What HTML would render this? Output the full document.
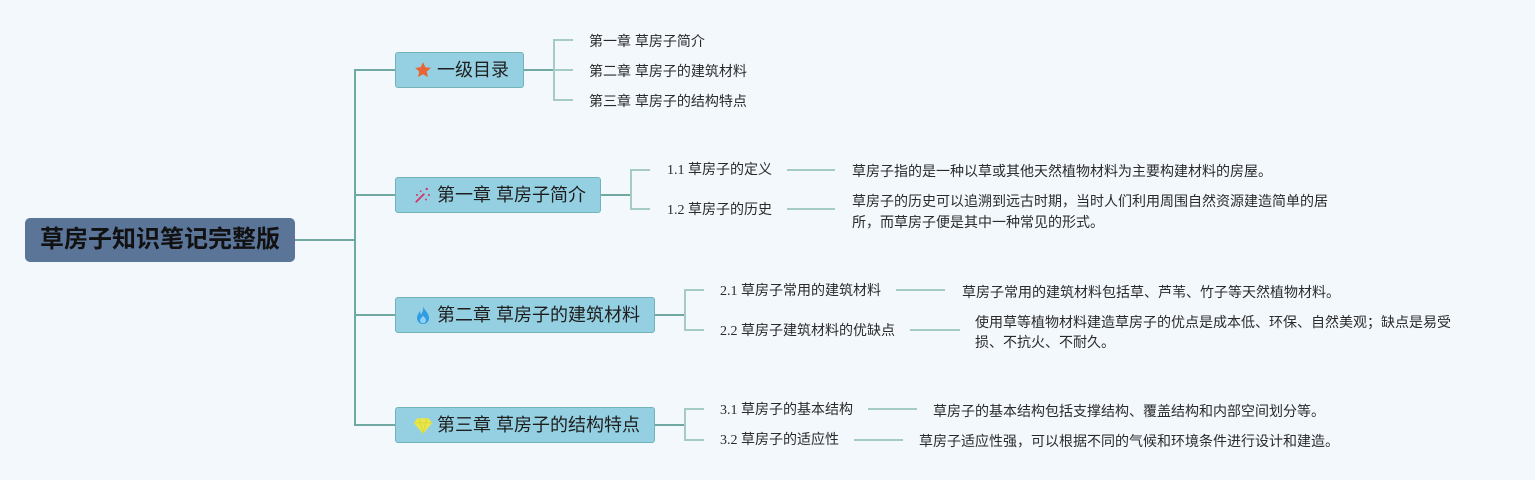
<!DOCTYPE html>
<html><head><meta charset="utf-8">
<style>
html,body{margin:0;padding:0;}
body{width:1535px;height:480px;background:#f3f8fd;position:relative;overflow:hidden;font-family:"Liberation Sans","Noto Sans CJK SC",sans-serif;}
.root{position:absolute;left:25px;top:218px;width:270px;height:44px;background:#5b7599;border-radius:5px;color:#111;font-weight:bold;font-size:24px;line-height:44px;text-align:center;letter-spacing:0px;}
.l1{position:absolute;left:395px;height:34px;background:#94d0e1;border:1px solid #72b3b8;border-radius:3px;box-sizing:border-box;}
.l1 .t{position:absolute;left:41px;top:0;line-height:33px;font-size:18px;color:#1e1e1e;white-space:nowrap;}
.l1 svg{position:absolute;left:18px;top:8px;}
.lf{position:absolute;font-size:14px;line-height:20px;color:#2a2a2a;white-space:nowrap;font-family:"Liberation Serif","Noto Sans CJK SC",sans-serif;}
.ds{position:absolute;font-size:14px;line-height:20px;color:#2a2a2a;white-space:nowrap;font-family:"Liberation Sans","Noto Sans CJK SC",sans-serif;}
</style></head><body>
<svg width="1535" height="480" style="position:absolute;left:0;top:0">
<g stroke="#6fa9a1" stroke-width="2" fill="none">
<line x1="295" y1="240" x2="355" y2="240"/>
<line x1="355" y1="69" x2="355" y2="426"/>
<line x1="355" y1="70" x2="395" y2="70"/>
<line x1="355" y1="195" x2="395" y2="195"/>
<line x1="355" y1="315" x2="395" y2="315"/>
<line x1="355" y1="425" x2="395" y2="425"/>
<line x1="524" y1="70" x2="554" y2="70"/>
<line x1="601" y1="195" x2="631" y2="195"/>
<line x1="655" y1="315" x2="685" y2="315"/>
<line x1="655" y1="425" x2="685" y2="425"/>
</g>
<g stroke="#a6cac5" stroke-width="2" fill="none">
<path d="M573 40 H554 V100 H573"/>
<line x1="554" y1="70" x2="573" y2="70"/>
<path d="M650 170 H631 V209 H650"/>
<path d="M704 290 H685 V330 H704"/>
<path d="M704 409 H685 V440 H704"/>
<line x1="787" y1="170" x2="835" y2="170"/>
<line x1="787" y1="209" x2="835" y2="209"/>
<line x1="896" y1="290" x2="945" y2="290"/>
<line x1="910" y1="330" x2="960" y2="330"/>
<line x1="868" y1="409" x2="917" y2="409"/>
<line x1="854" y1="440" x2="903" y2="440"/>
</g>
</svg>

<div class="root">草房子知识笔记完整版</div>

<div class="l1" style="top:52px;width:129px;height:36px;">
<svg width="18" height="18" viewBox="0 0 24 24" style="top:8px"><path d="M12 1.5l3.1 6.9 7.4.7-5.6 5 1.7 7.4L12 17.7l-6.6 3.8 1.7-7.4-5.6-5 7.4-.7z" fill="#ea6434"/></svg>
<div class="t" style="line-height:35px">一级目录</div></div>

<div class="l1" style="top:177px;width:206px;height:36px;">
<svg width="18" height="18" viewBox="0 0 24 24" style="top:8px"><line x1="3" y1="21" x2="13" y2="11" stroke="#d6336c" stroke-width="2.5" stroke-linecap="round"/><circle cx="17" cy="4" r="1.6" fill="#d6336c"/><circle cx="20" cy="12" r="1.4" fill="#d6336c"/><circle cx="4" cy="12" r="1.4" fill="#d6336c"/><circle cx="9" cy="7" r="1.2" fill="#d6336c"/><circle cx="16" cy="18" r="1.3" fill="#d6336c"/></svg>
<div class="t" style="line-height:35px">第一章 草房子简介</div></div>

<div class="l1" style="top:297px;width:260px;height:36px;">
<svg width="18" height="20" viewBox="0 0 24 26" style="top:7px"><path d="M12 1c1 5 8 9 8 16a8 8 0 0 1-16 0c0-4 3-6 3-9 2 2 2 4 2 5 2-3 4-7 3-12z" fill="#2f9be2"/><path d="M12 14c2 2 4 4 4 6a4 4 0 0 1-8 0c0-2 2-3 4-6z" fill="#8fd0f2"/></svg>
<div class="t" style="line-height:35px">第二章 草房子的建筑材料</div></div>

<div class="l1" style="top:407px;width:260px;height:36px;">
<svg width="20" height="18" viewBox="0 0 26 22" style="left:17px;top:9px"><path d="M6 1h14l5 6-12 14L1 7z" fill="#e9e84a"/><path d="M1 7h24M8 1l5 20M18 1l-5 20" stroke="#d4d23a" stroke-width="1" fill="none"/></svg>
<div class="t" style="line-height:35px">第三章 草房子的结构特点</div></div>

<div class="ds" style="left:589px;top:31px">第一章 草房子简介</div>
<div class="ds" style="left:589px;top:61px">第二章 草房子的建筑材料</div>
<div class="ds" style="left:589px;top:91px">第三章 草房子的结构特点</div>

<div class="lf" style="left:667px;top:161px">1.1 草房子的定义</div>
<div class="lf" style="left:667px;top:201px">1.2 草房子的历史</div>
<div class="ds" style="left:852px;top:161px">草房子指的是一种以草或其他天然植物材料为主要构建材料的房屋。</div>
<div class="ds" style="left:852px;top:191px;line-height:21px">草房子的历史可以追溯到远古时期，当时人们利用周围自然资源建造简单的居<br>所，而草房子便是其中一种常见的形式。</div>

<div class="lf" style="left:720px;top:282px">2.1 草房子常用的建筑材料</div>
<div class="lf" style="left:720px;top:322px">2.2 草房子建筑材料的优缺点</div>
<div class="ds" style="left:962px;top:282px">草房子常用的建筑材料包括草、芦苇、竹子等天然植物材料。</div>
<div class="ds" style="left:975px;top:312px;line-height:20px">使用草等植物材料建造草房子的优点是成本低、环保、自然美观；缺点是易受<br>损、不抗火、不耐久。</div>

<div class="lf" style="left:720px;top:401px">3.1 草房子的基本结构</div>
<div class="lf" style="left:720px;top:431px">3.2 草房子的适应性</div>
<div class="ds" style="left:933px;top:401px">草房子的基本结构包括支撑结构、覆盖结构和内部空间划分等。</div>
<div class="ds" style="left:919px;top:431px">草房子适应性强，可以根据不同的气候和环境条件进行设计和建造。</div>
</body></html>
